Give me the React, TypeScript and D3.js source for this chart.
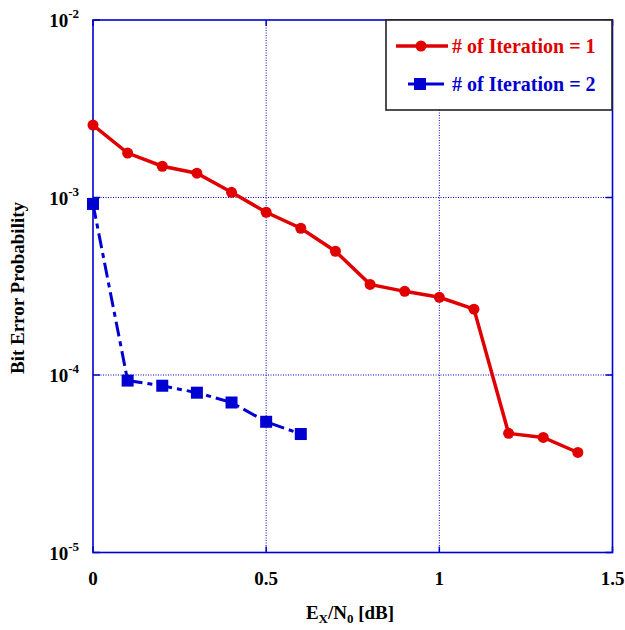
import React from "react";
import * as d3 from "d3";

const xIter1 = [0, 0.1, 0.2, 0.3, 0.4, 0.5, 0.6, 0.7, 0.8, 0.9, 1.0, 1.1, 1.2, 1.3, 1.4];
const berIter1 = [2.56e-3, 1.78e-3, 1.5e-3, 1.37e-3, 1.07e-3, 8.26e-4, 6.71e-4, 4.98e-4, 3.24e-4, 2.96e-4, 2.74e-4, 2.35e-4, 4.69e-5, 4.45e-5, 3.66e-5];
const xIter2 = [0, 0.1, 0.2, 0.3, 0.4, 0.5, 0.6];
const berIter2 = [9.2e-4, 9.3e-5, 8.7e-5, 7.95e-5, 7.0e-5, 5.45e-5, 4.65e-5];
const xTicks = [0, 0.5, 1, 1.5];
const xTickLabels = ["0", "0.5", "1", "1.5"];
const yExps = [-2, -3, -4, -5];
const legendLabels = ["# of Iteration = 1", "# of Iteration = 2"];

const W = 625, H = 630;
const L = 93, R = 612.5, T = 20, B = 552.5;
const FONT = "'Liberation Serif', 'Times New Roman', serif";

export default function App() {
  const x = d3.scaleLinear().domain([0, 1.5]).range([L, R]);
  const y = d3.scaleLog().domain([1e-5, 1e-2]).range([B, T]);
  const line = d3.line<[number, number]>().x(d => x(d[0])).y(d => y(d[1]));
  const d1 = xIter1.map((v, i) => [v, berIter1[i]] as [number, number]);
  const d2 = xIter2.map((v, i) => [v, berIter2[i]] as [number, number]);
  const blue = "#0000d0";
  const red = "#e00000";
  return (
    <svg width={W} height={H} style={{ position: "absolute", left: 0, top: 0 }}>
      <rect x={0} y={0} width={W} height={H} fill="white" />
      {/* grid */}
      {xTicks.slice(1, -1).map(t => (
        <line key={"gx" + t} x1={x(t)} x2={x(t)} y1={T} y2={B} stroke={blue} strokeWidth={1} strokeDasharray="1,1.5" />
      ))}
      {yExps.slice(1, -1).map(e => (
        <line key={"gy" + e} x1={L} x2={R} y1={y(Math.pow(10, e))} y2={y(Math.pow(10, e))} stroke={blue} strokeWidth={1} strokeDasharray="1,1.5" />
      ))}
      {/* ticks */}
      {xTicks.map(t => (
        <g key={"tx" + t}>
          <line x1={x(t)} x2={x(t)} y1={B} y2={B - 6} stroke={blue} strokeWidth={1.5} />
          <line x1={x(t)} x2={x(t)} y1={T} y2={T + 6} stroke={blue} strokeWidth={1.5} />
        </g>
      ))}
      {yExps.map(e => (
        <g key={"ty" + e}>
          <line x1={L} x2={L + 7} y1={y(Math.pow(10, e))} y2={y(Math.pow(10, e))} stroke={blue} strokeWidth={1.5} />
          <line x1={R} x2={R - 7} y1={y(Math.pow(10, e))} y2={y(Math.pow(10, e))} stroke={blue} strokeWidth={1.5} />
        </g>
      ))}
      {/* frame */}
      <rect x={L} y={T} width={R - L} height={B - T} fill="none" stroke={blue} strokeWidth={1.6} />
      {/* tick labels */}
      {xTicks.map((t, i) => (
        <text key={"lx" + t} x={x(t)} y={585} textAnchor="middle" fontFamily={FONT} fontWeight="bold" fontSize={19} fill="#000">{xTickLabels[i]}</text>
      ))}
      {yExps.map(e => (
        <text key={"ly" + e} x={79} y={y(Math.pow(10, e)) + 7} textAnchor="end" fontFamily={FONT} fontWeight="bold" fontSize={19} fill="#000">
          10<tspan dy={-9} fontSize={13}>{e}</tspan>
        </text>
      ))}
      {/* axis titles */}
      <text x={350} y={619} textAnchor="middle" fontFamily={FONT} fontWeight="bold" fontSize={19} fill="#000">
        E<tspan fontSize={13} dy={4}>X</tspan><tspan dy={-4}>/N</tspan><tspan fontSize={13} dy={4}>0</tspan><tspan dy={-4}> [dB]</tspan>
      </text>
      <text transform="translate(24,288) rotate(-90)" textAnchor="middle" fontFamily={FONT} fontWeight="bold" fontSize={19} fill="#000">Bit Error Probability</text>
      {/* series 2 */}
      <path d={line(d2) || ""} fill="none" stroke={blue} strokeWidth={3} strokeDasharray="15,5,5,5" />
      {d2.map((p, i) => (
        <rect key={"s2" + i} x={x(p[0]) - 6} y={y(p[1]) - 6} width={12} height={12} fill={blue} />
      ))}
      {/* series 1 */}
      <path d={line(d1) || ""} fill="none" stroke={red} strokeWidth={3.5} />
      {d1.map((p, i) => (
        <circle key={"s1" + i} cx={x(p[0])} cy={y(p[1])} r={5.5} fill={red} />
      ))}
      {/* legend */}
      <rect x={386} y={20} width={226} height={90} fill="white" stroke="#222" strokeWidth={1.6} />
      <line x1={396} x2={448} y1={46} y2={46} stroke={red} strokeWidth={3.5} />
      <circle cx={421} cy={46} r={5.5} fill={red} />
      <text x={452} y={53} fontFamily={FONT} fontWeight="bold" fontSize={20} fill={red}>{legendLabels[0]}</text>
      <line x1={408} x2={444} y1={84} y2={84} stroke={blue} strokeWidth={3} />
      <rect x={414} y={78} width={12} height={12} fill={blue} />
      <text x={452} y={91} fontFamily={FONT} fontWeight="bold" fontSize={20} fill={blue}>{legendLabels[1]}</text>
    </svg>
  );
}
